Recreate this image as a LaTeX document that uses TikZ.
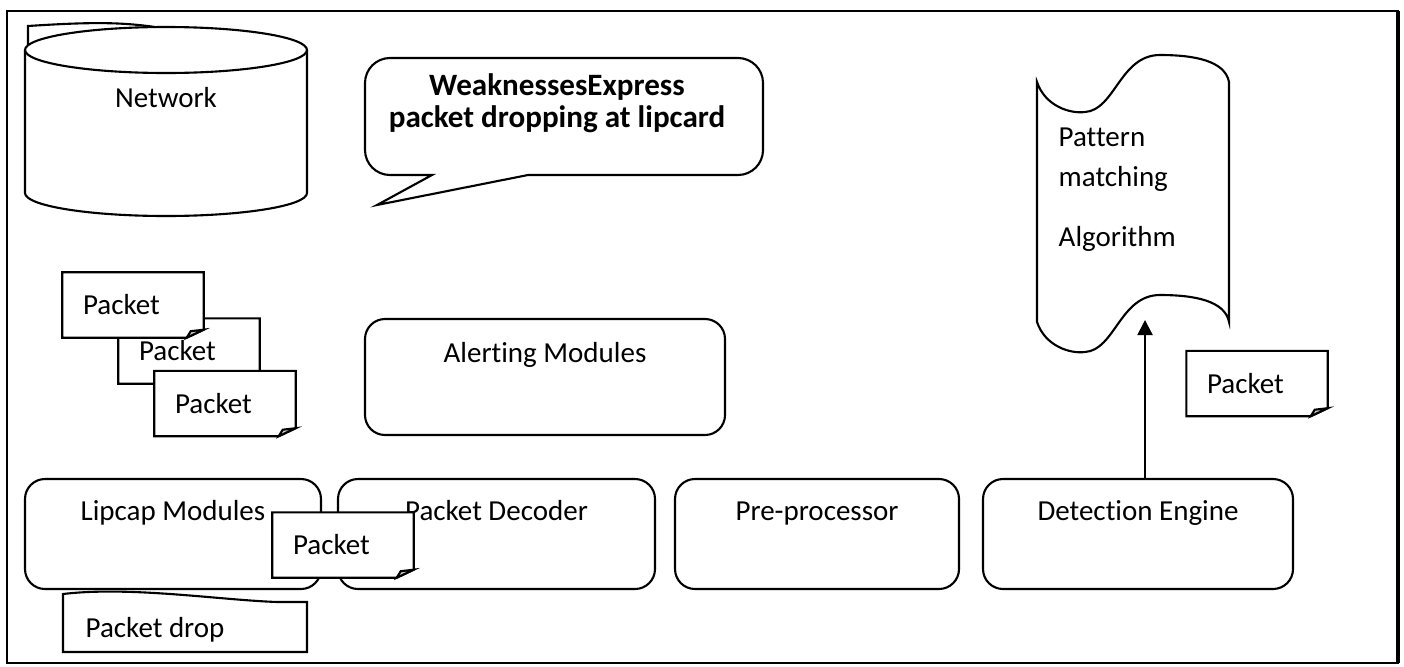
\documentclass[tikz,border=0pt]{standalone}
\usepackage{fontspec}
\setmainfont{Carlito}[Ligatures=NoCommon]
\usepackage{tikz}
\usetikzlibrary{arrows.meta,calc,positioning}
\definecolor{fold}{RGB}{205,205,205}

\tikzset{
  every node/.style={font=\fontsize{8.25}{11.4}\selectfont},
  edgeline/.style={line width=0.6pt},
  modbox/.style={draw, line width=0.6pt, rounded corners=0.2cm, inner sep=0pt},
  boxlbl/.style={anchor=base},
  pkt/.style={fill=white, minimum width=1.40cm, minimum height=0.64cm,
    text width=1.0cm, align=left, inner sep=0pt},
}
% outline of a packet note with its turned-down corner
\newcommand{\pktfold}[1]{%
  \draw[edgeline] ([yshift=0.08cm]#1.south east) -- (#1.north east) -- (#1.north west)
    -- (#1.south west) -- ([xshift=-0.17cm]#1.south east) -- cycle;
  \filldraw[edgeline, fill=fold] ([xshift=-0.17cm]#1.south east)
    -- ([xshift=-0.13cm,yshift=0.065cm]#1.south east) -- ([yshift=0.08cm]#1.south east) -- cycle;
}

\begin{document}
\begin{tikzpicture}
  \useasboundingbox (0,0) rectangle (14.04,6.66);
  % outer frame
  \draw[edgeline] (0.07,0.03) rectangle (13.98,6.55);
  \draw[line width=1pt] (13.98,0.03) -- (13.98,6.55);

  % network store
  \draw[edgeline] (0.28,6.21) -- (0.28,6.40) .. controls (0.9,6.44) and (1.2,6.44) .. (1.55,6.39);
  \filldraw[edgeline, fill=white] (0.25,6.16) -- (0.25,4.73)
    arc[start angle=180, end angle=360, x radius=1.41, y radius=0.23] -- (3.07,6.16);
  \draw[edgeline] (1.66,6.16) ellipse [x radius=1.41, y radius=0.23];
  \node[boxlbl] (net) at (1.66,5.59) {Network};

  % callout
  \draw[edgeline] (3.77,4.61) -- (5.28,4.91) [rounded corners=0.25cm] -- (7.63,4.91)
    -- (7.63,6.08) -- (3.65,6.08) -- (3.65,4.91) [sharp corners] -- (4.32,4.91) -- cycle;
  \node[align=center, inner sep=0pt, anchor=north,
        font=\bfseries\fontsize{8.85}{9.1}\selectfont] (weak) at (5.57,5.93)
    {WeaknessesExpress\\packet dropping at lipcard};

  % pattern matching tape
  \draw[edgeline] (10.37,5.84) .. controls (10.45,5.60) and (10.70,5.52) .. (10.85,5.54)
    .. controls (11.15,5.56) and (11.20,6.11) .. (11.60,6.11)
    .. controls (11.95,6.11) and (12.25,6.05) .. (12.29,5.84) -- (12.29,3.44)
    .. controls (12.25,3.65) and (11.95,3.71) .. (11.60,3.71)
    .. controls (11.20,3.71) and (11.15,3.16) .. (10.85,3.14)
    .. controls (10.70,3.12) and (10.45,3.20) .. (10.37,3.44) -- cycle;
  \node[align=left, inner sep=0pt, anchor=north west] (pmatch) at (10.58,5.39)
    {Pattern\\matching\\[5.7pt]Algorithm};
  \coordinate (algotip) at (11.45,3.46);

  % modules
  \node[modbox, minimum width=3.60cm, minimum height=1.16cm] (alert) at (5.45,2.89) {};
  \node[boxlbl] (alert-t) at ([yshift=-0.45cm]alert.north) {Alerting Modules};
  \node[modbox, minimum width=2.96cm, minimum height=1.10cm] (lipcap) at (1.73,1.32) {};
  \node[boxlbl] (lipcap-t) at ([yshift=-0.43cm]lipcap.north) {Lipcap Modules};
  \node[modbox, minimum width=3.17cm, minimum height=1.10cm] (decoder) at (4.965,1.32) {};
  \node[boxlbl] (decoder-t) at ([yshift=-0.43cm]decoder.north) {Packet Decoder};
  \node[modbox, minimum width=2.84cm, minimum height=1.10cm] (preproc) at (8.17,1.32) {};
  \node[boxlbl] (preproc-t) at ([yshift=-0.43cm]preproc.north) {Pre-processor};
  \node[modbox, minimum width=3.10cm, minimum height=1.10cm] (detect) at (11.38,1.32) {};
  \node[boxlbl] (detect-t) at ([yshift=-0.43cm]detect.north) {Detection Engine};

  \draw[edgeline, -{Triangle[length=0.15cm, width=0.15cm]}] (detect.north -| algotip) -- (algotip);

  % packets
  \node[pkt] (pktb) at (1.89,3.15) {Packet}; \pktfold{pktb}
  \node[pkt] (pkta) at (1.33,3.61) {Packet}; \pktfold{pkta}
  \node[pkt] (pktc) at (2.25,2.625) {Packet}; \pktfold{pktc}
  \node[pkt] (pktcap) at (3.43,1.21) {Packet}; \pktfold{pktcap}
  \node[pkt] (pktdet) at (12.57,2.825) {Packet}; \pktfold{pktdet}

  % dropped packets
  \draw[edgeline] (0.63,0.14) -- (0.63,0.72) .. controls (1.3,0.80) and (2.2,0.66) .. (2.77,0.64)
    -- (3.07,0.64) -- (3.07,0.14) -- cycle;
  \node[anchor=base west, inner sep=0pt] (pdrop) at (0.85,0.29) {Packet drop};
\end{tikzpicture}
\end{document}
